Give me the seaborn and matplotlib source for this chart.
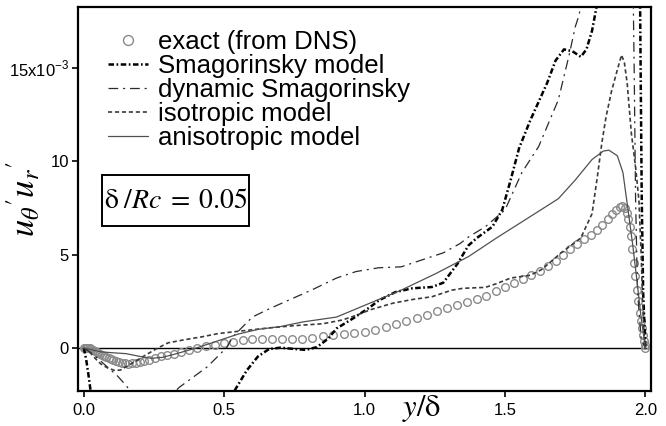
import matplotlib
matplotlib.use("Agg")
import matplotlib.pyplot as plt
from matplotlib.patches import Rectangle
import seaborn as sns

sns.set_theme(style="ticks")
plt.rcParams['font.family'] = ['Liberation Sans', 'DejaVu Sans']
plt.rcParams['mathtext.fontset'] = 'stix'
plt.rcParams['lines.scale_dashes'] = False
for k in ['text.color', 'axes.labelcolor', 'xtick.color', 'ytick.color', 'axes.edgecolor']:
    plt.rcParams[k] = 'black'

# ---------------- data (values in units of 1e-3) ----------------
exact_x = [0.0, 0.004, 0.008, 0.012, 0.017, 0.022, 0.027, 0.033, 0.039, 0.045,
           0.051, 0.058, 0.065, 0.072, 0.080, 0.088, 0.096, 0.105, 0.114, 0.124,
           0.134, 0.145, 0.157, 0.170, 0.184, 0.199, 0.215, 0.233, 0.252, 0.273,
           0.296, 0.320, 0.346, 0.374, 0.404, 0.436, 0.468, 0.5, 0.5327, 0.5661,
           0.6001, 0.6347, 0.6697, 0.7052, 0.7412, 0.7775, 0.8141, 0.8510, 0.8880, 0.9253,
           0.9626, 1.0, 1.0374, 1.0747, 1.1120, 1.1490, 1.1859, 1.2225, 1.2588, 1.2948,
           1.3303, 1.3653, 1.3999, 1.4339, 1.4673, 1.5, 1.5320, 1.5633, 1.5938, 1.6235,
           1.6523, 1.6802, 1.7071, 1.7331, 1.7580, 1.7818, 1.8046, 1.8262, 1.8467, 1.8660,
           1.882, 1.896, 1.908, 1.918, 1.926, 1.933, 1.939, 1.944, 1.949, 1.954,
           1.959, 1.964, 1.969, 1.974, 1.979, 1.983, 1.987, 1.991, 1.994, 1.997, 2.0]
exact_y = [0.0, 0.01, 0.02, 0.02, 0.01, -0.02, -0.06, -0.1, -0.15, -0.2,
           -0.25, -0.3, -0.36, -0.42, -0.49, -0.55, -0.61, -0.66, -0.71, -0.76,
           -0.79, -0.82, -0.83, -0.82, -0.8, -0.76, -0.7, -0.62, -0.54, -0.45,
           -0.38, -0.3, -0.21, -0.12, -0.01, 0.1, 0.19, 0.27, 0.35, 0.42,
           0.46, 0.47, 0.47, 0.47, 0.47, 0.49, 0.54, 0.62, 0.68, 0.74,
           0.8, 0.88, 0.99, 1.15, 1.31, 1.47, 1.61, 1.79, 1.98, 2.15,
           2.29, 2.45, 2.62, 2.8, 3.03, 3.28, 3.5, 3.72, 3.93, 4.15,
           4.37, 4.67, 4.98, 5.3, 5.58, 5.82, 6.08, 6.33, 6.6, 6.9,
           7.17, 7.42, 7.56, 7.6, 7.5, 7.25, 6.9, 6.5, 6.0, 5.3,
           4.55, 3.85, 3.1, 2.5, 1.9, 1.45, 1.05, 0.7, 0.4, 0.15, 0.0]

smag_x = [0.0, 0.008, 0.016, 0.024, 0.035, 0.5, 0.54, 0.58, 0.62, 0.66, 0.7, 0.75, 0.79,
          0.83, 0.87, 0.9, 0.96, 1.02, 1.05, 1.11, 1.17, 1.24, 1.28, 1.33, 1.37, 1.40,
          1.455, 1.49, 1.52, 1.55, 1.59, 1.65, 1.68, 1.71, 1.74, 1.77, 1.79, 1.81, 1.825,
          1.84, 1.98, 1.983, 1.987, 1.992, 2.0]
smag_y = [0.0, -0.6, -1.4, -2.3, -3.5, -3.4, -2.2, -1.2, -0.45, -0.05, 0.02, -0.05, -0.1,
          0.05, 0.5, 1.05, 1.6, 2.2, 2.55, 3.0, 3.2, 3.27, 3.5, 4.5, 5.5, 5.9,
          6.5, 7.4, 9.0, 10.7, 12.2, 14.2, 15.4, 16.0, 15.9, 15.6, 16.0, 17.0, 18.2,
          20.5, 20.5, 15.0, 8.0, 3.0, 0.0]

dyn_x = [0.0, 0.03, 0.06, 0.09, 0.12, 0.15, 0.18, 0.25, 0.3, 0.34, 0.44, 0.51, 0.53, 0.6,
         0.66, 0.73, 0.81, 0.9, 0.97, 1.05, 1.13, 1.18, 1.28, 1.34, 1.37, 1.43, 1.5, 1.56,
         1.62, 1.69, 1.73, 1.75, 1.765, 1.78, 1.955, 1.96, 1.965, 1.972, 1.985, 2.0]
dyn_y = [0.0, -0.3, -0.7, -1.1, -1.5, -2.0, -2.6, -3.5, -2.7, -2.1, -1.0, 0.05, 0.6, 1.66,
         2.1, 2.57, 3.1, 3.75, 4.1, 4.3, 4.35, 4.6, 5.1, 5.6, 5.95, 6.5, 7.4, 9.4,
         10.8, 13.3, 15.8, 17.2, 17.9, 20.5, 20.5, 15.0, 8.0, 3.0, 0.5, 0.0]

iso_x = [0.0, 0.02, 0.04, 0.06, 0.085, 0.11, 0.13, 0.156, 0.185, 0.217, 0.263, 0.3, 0.36,
         0.42, 0.48, 0.54, 0.6, 0.66, 0.75, 0.85, 0.92, 0.97, 1.02, 1.1, 1.17, 1.24, 1.31,
         1.35, 1.43, 1.47, 1.52, 1.59, 1.63, 1.70, 1.77, 1.81, 1.83, 1.845, 1.86, 1.88,
         1.9, 1.915, 1.925, 1.935, 1.95, 1.965, 1.977, 1.985, 1.99, 1.995, 2.0]
iso_y = [0.0, -0.2, -0.55, -0.85, -1.07, -1.2, -1.18, -0.95, -0.7, -0.4, 0.0, 0.28, 0.45,
         0.6, 0.78, 0.88, 0.98, 1.08, 1.2, 1.3, 1.5, 1.75, 2.05, 2.4, 2.6, 2.75, 3.1,
         3.2, 3.25, 3.45, 3.75, 3.9, 4.2, 5.1, 5.9, 7.2, 9.3, 11.0, 12.4, 13.8,
         14.9, 15.7, 15.3, 14.2, 11.5, 9.7, 7.9, 5.0, 2.5, 0.8, 0.0]

aniso_x = [0.0, 0.03, 0.06, 0.1, 0.15, 0.2, 0.24, 0.28, 0.33, 0.4, 0.47, 0.55, 0.62, 0.7,
           0.78, 0.9, 0.97, 1.05, 1.13, 1.255, 1.37, 1.47, 1.575, 1.69, 1.75, 1.81, 1.85,
           1.87, 1.9, 1.92, 1.94, 1.955, 1.97, 1.985, 2.0]
aniso_y = [0.0, -0.1, -0.2, -0.25, -0.3, -0.45, -0.55, -0.5, -0.3, 0.0, 0.35, 0.75, 1.0, 1.15,
           1.4, 1.66, 2.1, 2.6, 3.1, 4.0, 4.9, 5.9, 6.9, 8.0, 9.0, 10.1, 10.55,
           10.6, 10.3, 9.4, 7.2, 5.5, 3.6, 1.6, 0.0]

labels = ["exact (from DNS)", "Smagorinsky model", "dynamic Smagorinsky",
          "isotropic model", "anisotropic model"]
x_ticks = [0.0, 0.5, 1.0, 1.5, 2.0]
x_ticklabels = ["0.0", "0.5", "1.0", "1.5", "2.0"]
y_ticks = [0, 5, 10, 15]
y_ticklabels = ["0", "5", "10", r"15x10$^{\mathregular{-3}}$"]

# ---------------- figure ----------------
fig = plt.figure(figsize=(6.66, 4.26), dpi=100)
ax = fig.add_axes([0.1171, 0.0822, 0.8604, 0.9014])

ax.axhline(0, color='black', lw=1.0, zorder=1)

sns.lineplot(x=exact_x, y=exact_y, ax=ax, estimator=None, sort=False,
             linestyle='', marker='o', markersize=5.5, markerfacecolor='none',
             markeredgecolor='#8a8a8a', markeredgewidth=1.0, color='#8a8a8a',
             label=labels[0], zorder=3)
sns.lineplot(x=smag_x, y=smag_y, ax=ax, estimator=None, sort=False,
             color='black', lw=1.8, linestyle=(0, (4, 1.8, 1.2, 1.8)),
             label=labels[1], zorder=4)
sns.lineplot(x=dyn_x, y=dyn_y, ax=ax, estimator=None, sort=False,
             color='#2a2a2a', lw=0.9, linestyle=(0, (7, 3.5, 1.5, 3.5)),
             label=labels[2], zorder=4)
sns.lineplot(x=iso_x, y=iso_y, ax=ax, estimator=None, sort=False,
             color='#3a3a3a', lw=1.2, linestyle=(0, (3, 2)),
             label=labels[3], zorder=4)
sns.lineplot(x=aniso_x, y=aniso_y, ax=ax, estimator=None, sort=False,
             color='#505050', lw=0.9, linestyle='-',
             label=labels[4], zorder=4)

ax.set_xlim(-0.021, 2.02)
ax.set_ylim(-2.3, 18.27)
ax.set_xticks(x_ticks)
ax.set_xticklabels(x_ticklabels)
ax.set_yticks(y_ticks)
ax.set_yticklabels(y_ticklabels)
ax.tick_params(axis='both', direction='out', length=4.5, width=1.2, labelsize=12,
               bottom=True, left=True, top=False, right=False)
ax.tick_params(axis='x', pad=4)
ax.tick_params(axis='y', pad=2)
for s in ax.spines.values():
    s.set_visible(True)
    s.set_linewidth(1.6)
    s.set_color('black')

ax.set_ylabel(r"$u_{\theta}{}^{\prime}u_{r}{}^{\prime}$", fontsize=25)
ax.yaxis.set_label_coords(-0.062, 0.5)
ax.set_xlabel(r"$y/\mathrm{\delta}$", fontsize=22)
ax.xaxis.set_label_coords(0.599, -0.005)

# parameter box
ax.add_patch(Rectangle((0.042, 0.43), 0.256, 0.133, transform=ax.transAxes,
                       facecolor='white', edgecolor='black', lw=1.4, zorder=5))
ax.text(0.170, 0.496, r"$\mathrm{\delta}\;/Rc\;=\;\mathrm{0.05}$", transform=ax.transAxes,
        fontsize=20, ha='center', va='center', zorder=6)

leg = ax.legend(loc='upper left', bbox_to_anchor=(0.052, 0.94), frameon=False,
                fontsize=18.5, handlelength=1.55, handletextpad=0.42, labelspacing=0.0,
                borderaxespad=0, borderpad=0, markerscale=1.3)

fig.savefig("out.png", dpi=100)
